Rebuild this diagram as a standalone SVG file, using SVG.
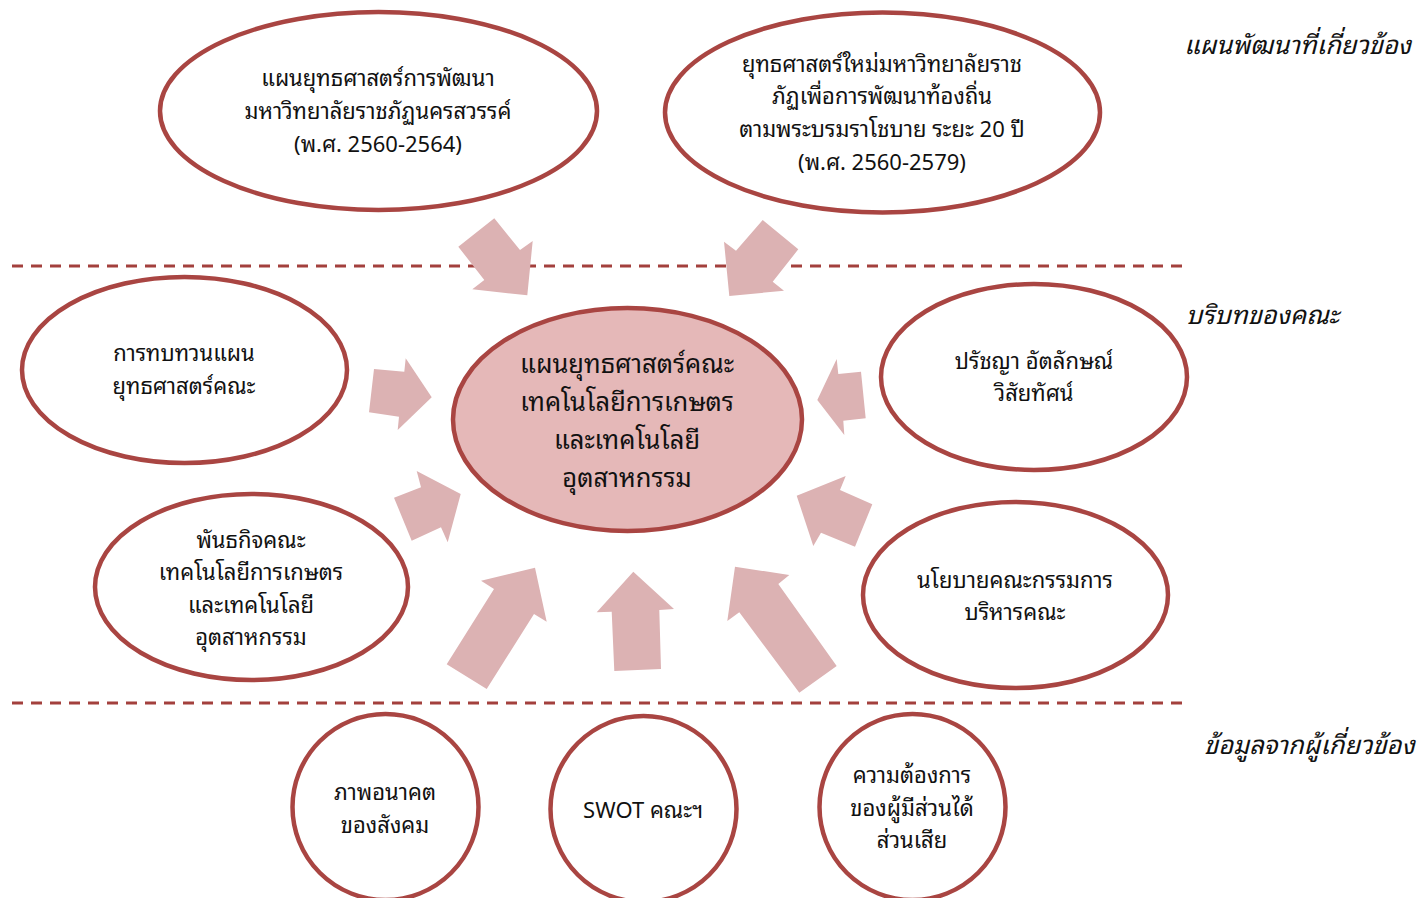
<svg xmlns="http://www.w3.org/2000/svg" width="1425" height="898" viewBox="0 0 1425 898">
<style>
.el{fill:#ffffff;stroke:#a94542;stroke-width:4.5}
.ctr{fill:#e5b8b8;stroke:#a94542;stroke-width:4.5}
.arr{fill:#dcb2b3;stroke:none}
.dash{stroke:#a3403d;stroke-width:3;stroke-dasharray:11 8;fill:none}
.t{font-family:"Noto Sans Thai Looped","Noto Sans","Noto Sans Thai","Liberation Sans",sans-serif;font-size:22px;fill:#111;text-anchor:middle}
.tc{font-family:"Noto Sans Thai Looped","Noto Sans","Noto Sans Thai","Liberation Sans",sans-serif;font-size:25.5px;fill:#111;text-anchor:middle}
.lab{font-family:"Noto Sans Thai Looped","Noto Sans","Noto Sans Thai","Liberation Sans",sans-serif;font-size:25.5px;font-style:italic;fill:#111;text-anchor:start}
</style>
<rect width="1425" height="898" fill="#ffffff"/>
<g id="guides">
<line class="dash" x1="12" y1="266" x2="1188" y2="266"/>
<line class="dash" x1="12" y1="703" x2="1188" y2="703"/>
<text class="lab" x="1184" y="54">แผนพัฒนาที่เกี่ยวข้อง</text>
<text class="lab" x="1186" y="324">บริบทของคณะ</text>
<text class="lab" x="1204" y="754">ข้อมูลจากผู้เกี่ยวข้อง</text>
</g>
<g id="connectors">
<polygon class="arr" points="494.3,218.3 520,250 532.7,241 527.3,295.3 472.3,289.3 484.3,280 458.3,246.7"/>
<polygon class="arr" points="762.7,220 798.3,249.3 772.7,281.7 784,290.7 729.3,296 724,241.7 736,250.7"/>
<polygon class="arr" points="374,369 404.3,371.7 405.7,358.3 431.7,397.3 397.7,430 399,416.7 369,412.3"/>
<polygon class="arr" points="394,497.7 421,487.3 416.7,471 460.7,494 447.7,542.3 441,527.3 411.7,540.7"/>
<polygon class="arr" points="861,371.7 838.3,374 836.7,359 817.3,400 844.3,435 843.3,420.7 865.7,418.3"/>
<polygon class="arr" points="872.3,504.3 840,490 845.7,476 796.7,495.7 813.3,546 821,532.7 855,546.7"/>
<polygon class="arr" points="446.7,664.3 494,589 481,580.7 535,567.7 546.7,621.7 534,614 486.7,689"/>
<polygon class="arr" points="614.3,671 611.7,611.7 596.7,612.3 633.3,571.7 674,609 659.3,610 661,669"/>
<polygon class="arr" points="799.3,692.7 739.3,612.3 727.3,621 735,566.7 789.3,575 778.3,584 836.7,666"/>
</g>
<g id="n-plan-univ">
<ellipse class="el" cx="378.5" cy="111" rx="218.5" ry="99"/>
<text class="t" x="378" y="86">แผนยุทธศาสตร์การพัฒนา</text>
<text class="t" x="378" y="119">มหาวิทยาลัยราชภัฏนครสวรรค์</text>
<text class="t" x="378" y="152">(พ.ศ. 2560-2564)</text>
</g>
<g id="n-strategy-20y">
<ellipse class="el" cx="882.5" cy="112.5" rx="217.5" ry="100"/>
<text class="t" x="882" y="72">ยุทธศาสตร์ใหม่มหาวิทยาลัยราช</text>
<text class="t" x="882" y="104">ภัฏเพื่อการพัฒนาท้องถิ่น</text>
<text class="t" x="882" y="137">ตามพระบรมราโชบาย ระยะ 20 ปี</text>
<text class="t" x="882" y="170">(พ.ศ. 2560-2579)</text>
</g>
<g id="n-center">
<ellipse class="ctr" cx="627.5" cy="419.5" rx="174.5" ry="111.5"/>
<text class="tc" x="627" y="373">แผนยุทธศาสตร์คณะ</text>
<text class="tc" x="627" y="411">เทคโนโลยีการเกษตร</text>
<text class="tc" x="627" y="449">และเทคโนโลยี</text>
<text class="tc" x="627" y="487">อุตสาหกรรม</text>
</g>
<g id="n-review">
<ellipse class="el" cx="184.5" cy="370" rx="162.5" ry="93"/>
<text class="t" x="184" y="361">การทบทวนแผน</text>
<text class="t" x="184" y="394">ยุทธศาสตร์คณะ</text>
</g>
<g id="n-philosophy">
<ellipse class="el" cx="1034" cy="377" rx="153" ry="93"/>
<text class="t" x="1034" y="369">ปรัชญา อัตลักษณ์</text>
<text class="t" x="1034" y="401">วิสัยทัศน์</text>
</g>
<g id="n-mission">
<ellipse class="el" cx="251.5" cy="587" rx="156.5" ry="93"/>
<text class="t" x="251" y="548">พันธกิจคณะ</text>
<text class="t" x="251" y="580">เทคโนโลยีการเกษตร</text>
<text class="t" x="251" y="613">และเทคโนโลยี</text>
<text class="t" x="251" y="645">อุตสาหกรรม</text>
</g>
<g id="n-policy">
<ellipse class="el" cx="1015.5" cy="595" rx="152.5" ry="93"/>
<text class="t" x="1015" y="588">นโยบายคณะกรรมการ</text>
<text class="t" x="1015" y="620">บริหารคณะ</text>
</g>
<g id="n-future">
<ellipse class="el" cx="385.5" cy="807" rx="93" ry="93"/>
<text class="t" x="385" y="800">ภาพอนาคต</text>
<text class="t" x="385" y="833">ของสังคม</text>
</g>
<g id="n-swot">
<ellipse class="el" cx="643.5" cy="809" rx="93" ry="93"/>
<text class="t" x="643" y="818">SWOT คณะฯ</text>
</g>
<g id="n-stakeholders">
<ellipse class="el" cx="912.5" cy="807" rx="93" ry="93"/>
<text class="t" x="912" y="783">ความต้องการ</text>
<text class="t" x="912" y="816">ของผู้มีส่วนได้</text>
<text class="t" x="912" y="848">ส่วนเสีย</text>
</g>
</svg>
